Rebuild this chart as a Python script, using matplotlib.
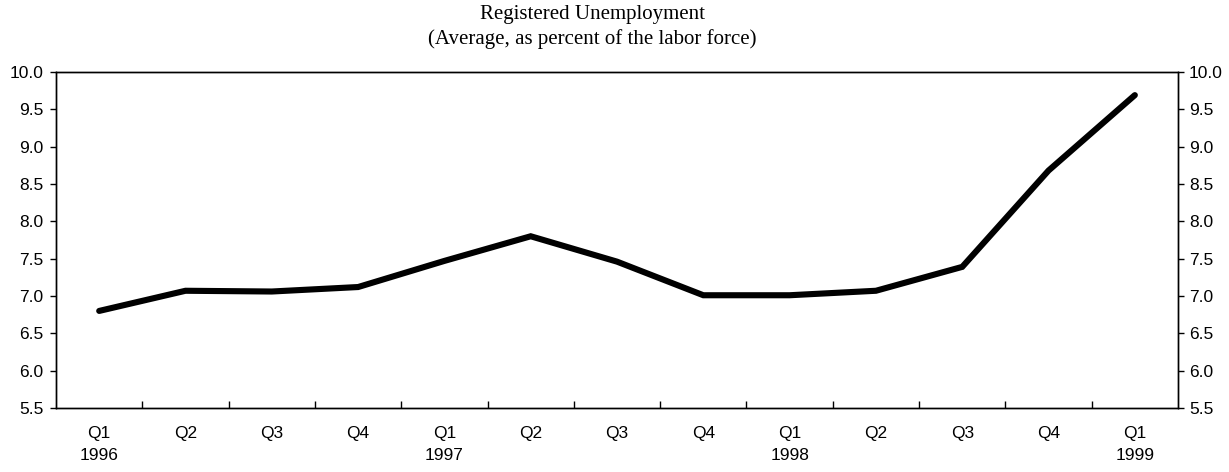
import numpy as np
import matplotlib
matplotlib.use("Agg")
import matplotlib.pyplot as plt
from matplotlib.ticker import FixedLocator, NullFormatter

quarters = ["Q1\n1996", "Q2", "Q3", "Q4",
            "Q1\n1997", "Q2", "Q3", "Q4",
            "Q1\n1998", "Q2", "Q3", "Q4",
            "Q1\n1999"]
unemployment = [6.80, 7.07, 7.06, 7.12, 7.47, 7.80, 7.46, 7.01, 7.01, 7.07, 7.39, 8.68, 9.69]
y_ticks = [5.5, 6.0, 6.5, 7.0, 7.5, 8.0, 8.5, 9.0, 9.5, 10.0]

plt.rcParams["font.family"] = ["Liberation Sans", "DejaVu Sans"]

fig = plt.figure(figsize=(12.29, 4.72), dpi=100)
ax = fig.add_axes([0.0456, 0.1356, 0.9129, 0.7119])

x = np.arange(len(quarters))
ax.plot(x, unemployment, color="black", linewidth=4.4,
        solid_joinstyle="miter", solid_capstyle="round")

ax.set_xlim(-0.5, len(quarters) - 0.5)
ax.set_ylim(5.5, 10.0)

# category boundary ticks (pointing up into the plot), labels at centres
ax.xaxis.set_major_locator(FixedLocator(np.arange(0.5, len(quarters) - 0.5, 1)))
ax.xaxis.set_major_formatter(NullFormatter())
ax.xaxis.set_minor_locator(FixedLocator(x))
ax.set_xticklabels(quarters, minor=True, linespacing=1.6)
ax.tick_params(axis="x", which="major", direction="in", length=5, width=1)
ax.tick_params(axis="x", which="minor", length=0, pad=13, labelsize=12.5)

ax.set_yticks(y_ticks)
ax.set_yticklabels([f"{v:.1f}" for v in y_ticks])
ax.tick_params(axis="y", direction="out", length=4, width=1, pad=5, labelsize=12.5)

ax2 = ax.twinx()
ax2.set_ylim(ax.get_ylim())
ax2.set_yticks(y_ticks)
ax2.set_yticklabels([f"{v:.1f}" for v in y_ticks])
ax2.tick_params(axis="y", direction="out", length=4, width=1, pad=4, labelsize=12.5)

for a in (ax, ax2):
    for s in a.spines.values():
        s.set_color("black")
        s.set_linewidth(1.0)

fig.text(0.482, 0.99, "Registered Unemployment", ha="center", va="top",
         fontsize=15, family="Liberation Serif")
fig.text(0.482, 0.939, "(Average, as percent of the labor force)", ha="center", va="top",
         fontsize=15, family="Liberation Serif")

fig.savefig("out.png", dpi=100)
